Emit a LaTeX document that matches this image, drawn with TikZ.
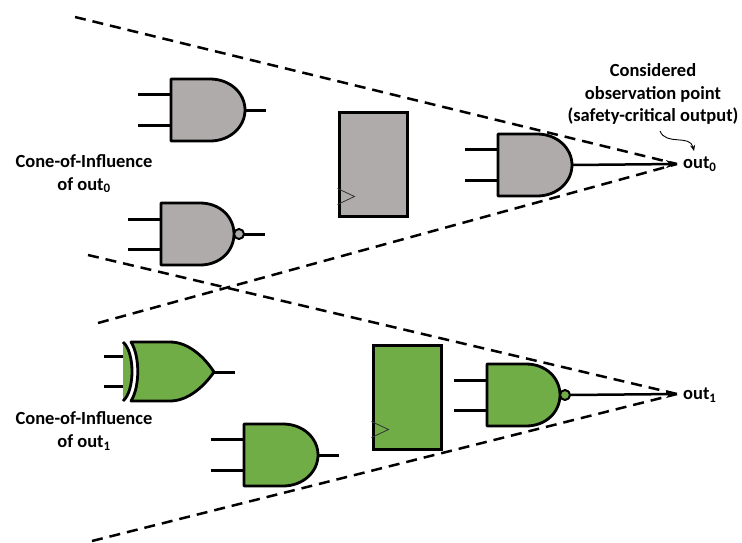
\documentclass[tikz,border=0pt]{standalone}
\usepackage{fontspec}
\setmainfont{Carlito}
\usetikzlibrary{arrows.meta}
\definecolor{greygate}{HTML}{AFABAB}
\definecolor{greengate}{HTML}{70AD47}
\tikzset{
  gate/.style={draw=black, line width=2.8pt, line join=round},
  wire/.style={draw=black, line width=3pt},
  cone/.style={draw=black, line width=2.5pt, dash pattern=on 11pt off 7pt},
  flop/.style={rectangle, draw=black, line width=3pt, minimum width=68pt, minimum height=104pt, inner sep=0pt},
  clock/.style={draw=black!80, line width=0.8pt},
  label/.style={font=\fontsize{18.5}{22.5}\selectfont\bfseries, align=center, inner sep=0pt},
  pics/andgate/.style={code={
    \draw[gate, fill=#1] (0,0) -- (39,0) .. controls (59,0) and (74,14) .. (74,31)
      .. controls (74,48) and (59,62) .. (39,62) -- (0,62) -- cycle;
    \coordinate (-a) at (0,15);
    \coordinate (-b) at (0,46);
    \coordinate (-a0) at (-33,15);
    \coordinate (-b0) at (-33,46);
    \coordinate (-out) at (74,31);
    \coordinate (-end) at (95,31);
  }},
  pics/nandgate/.style={code={
    \draw[gate, fill=#1] (0,0) -- (39,0) .. controls (59,0) and (73,14) .. (73,31)
      .. controls (73,48) and (59,62) .. (39,62) -- (0,62) -- cycle;
    \draw[gate, line width=2pt, fill=#1] (78,31) circle (5);
    \coordinate (-a) at (0,16);
    \coordinate (-b) at (0,46);
    \coordinate (-a0) at (-33,16);
    \coordinate (-b0) at (-33,46);
    \coordinate (-out) at (83,31);
    \coordinate (-end) at (104,31);
  }},
  pics/xorgate/.style={code={
    \fill[#1] (-8,0) .. controls (4,10) and (4,49) .. (-8,59) -- cycle;
    \draw[gate] (-8,0) .. controls (4,10) and (4,49) .. (-8,59);
    \draw[gate, fill=#1] (0,0) -- (39,0) .. controls (58,0) and (74,16) .. (83,30)
      .. controls (74,43) and (58,59) .. (39,59) -- (0,59)
      .. controls (9,45) and (9,14) .. (0,0) -- cycle;
    \coordinate (-a) at (-8,14);
    \coordinate (-b) at (-8,44);
    \coordinate (-a0) at (-27,14);
    \coordinate (-b0) at (-27,44);
    \coordinate (-out) at (83,30);
    \coordinate (-end) at (104,30);
  }}
}
\begin{document}
\begin{tikzpicture}[x=1pt, y=-1pt]
  \useasboundingbox (0,0) rectangle (742,542);
  % upper cone
  \pic (g1) at (171,79) {andgate=greygate};
  \pic (g2) at (161,203) {nandgate=greygate};
  \pic (g3) at (498,134) {andgate=greygate};
  \node[flop, fill=greygate] (ff0) at (373,164) {};
  \draw[clock] ([yshift=29pt]ff0.south west) -- ([shift={(17pt,21pt)}]ff0.south west) -- ([yshift=13pt]ff0.south west);
  % lower cone
  \pic (x1) at (131,342) {xorgate=greengate};
  \pic (g5) at (244,424) {andgate=greengate};
  \pic (g6) at (487,364) {nandgate=greengate};
  \node[flop, fill=greengate] (ff1) at (407,397) {};
  \draw[clock] ([yshift=29pt]ff1.south west) -- ([shift={(17pt,21pt)}]ff1.south west) -- ([yshift=13pt]ff1.south west);
  % wires
  \foreach \g in {g1,g2,g3,x1,g5,g6} {
    \draw[wire] (\g-a0) -- (\g-a);
    \draw[wire] (\g-b0) -- (\g-b);
  }
  \foreach \g in {g1,g2,x1,g5} {
    \draw[wire] (\g-out) -- (\g-end);
  }
  % outputs
  \node[label, anchor=west] (out0) at (683,164) {out\textsubscript{0}};
  \node[label, anchor=west] (out1) at (683,395) {out\textsubscript{1}};
  \coordinate (tip0) at (677,164);
  \coordinate (tip1) at (677,394);
  \draw[wire, line width=2.5pt, -{Stealth[length=11pt, width=8pt]}] (g3-out) -- (tip0);
  \draw[wire, line width=2.5pt, -{Stealth[length=11pt, width=8pt]}] (g6-out) -- (tip1);
  % cones
  \coordinate (c0a) at (75,17);
  \coordinate (c0b) at (98,323);
  \coordinate (c1a) at (88,255);
  \coordinate (c1b) at (92,541);
  \draw[cone] (c0a) -- (tip0);
  \draw[cone] (c0b) -- (tip0);
  \draw[cone] (c1a) -- (tip1);
  \draw[cone] (c1b) -- (tip1);
  % labels
  \node[label] (coi0) at (84,174) {Cone-of-Influence\\of out\textsubscript{0}};
  \node[label] (coi1) at (84,431) {Cone-of-Influence\\of out\textsubscript{1}};
  \node[label] (obs) at (653,94) {Considered\\observation point\\(safety-critical output)};
  \coordinate (obs1) at (660,131);
  \coordinate (obs2) at (694,151);
  \draw[line width=0.9pt, -{Stealth[length=6pt, width=5pt]}] (obs1) .. controls (666,146) and (690,134) .. (obs2);
\end{tikzpicture}
\end{document}
